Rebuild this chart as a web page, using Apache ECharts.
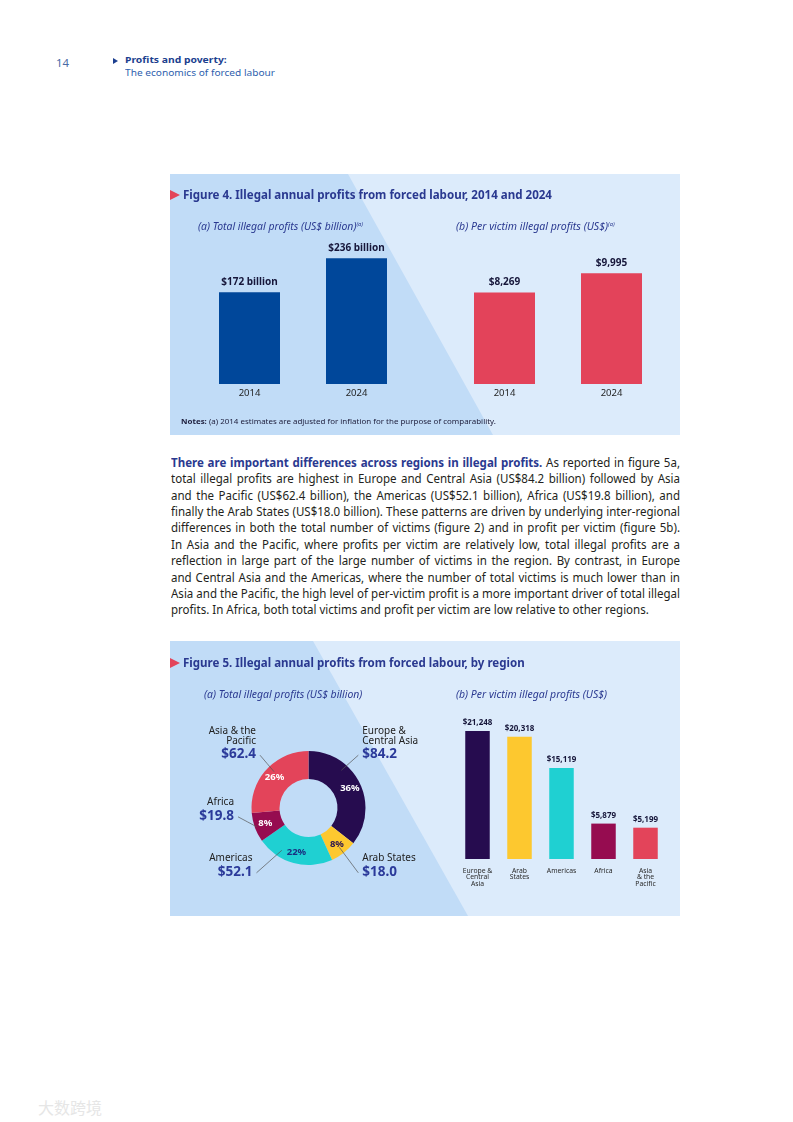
<!DOCTYPE html>
<html>
<head>
<meta charset="utf-8">
<script src="https://cdn.jsdelivr.net/npm/echarts@6/dist/echarts.min.js"></script>
<style>
html,body{margin:0;padding:0;background:#fff;}
#page{position:relative;width:793px;height:1122px;overflow:hidden;font-family:"Noto Sans",sans-serif;background:#fff;}
.t{position:absolute;white-space:nowrap;transform-origin:0 50%;}
.panel{position:absolute;background:#dcebfb;}
.dark{position:absolute;left:0;top:0;width:100%;height:100%;background:#c1dcf7;}
.chart{position:absolute;}
.tri{position:absolute;width:0;height:0;border-style:solid;}
#para{position:absolute;left:170.5px;top:453.7px;transform-origin:0 0;font-size:11.7px;line-height:16.41px;color:#231f20;}
#para .pl{text-align:justify;text-align-last:justify;white-space:normal;}
#para .pl.last{text-align:left;text-align-last:left;}
sup{font-size:5.5px;vertical-align:4px;line-height:0;}
</style>
</head>
<body>
<div id="page">
  <!-- header -->
  <div class="t" data-w="13" style="left:56px;top:57px;font-size:10.5px;line-height:12px;color:#4a6aa5;">14</div>
  <div class="tri" style="left:113px;top:58px;border-width:3px 0 3px 5.6px;border-color:transparent transparent transparent #1c3f8f;"></div>
  <div class="t" data-w="101.7" style="left:125px;top:54.3px;font-size:9.5px;line-height:12px;font-weight:700;color:#1c3f8f;">Profits and poverty:</div>
  <div class="t" data-w="150" style="left:125px;top:67.3px;font-size:9.5px;line-height:12px;color:#2f5fae;">The economics of forced labour</div>

  <!-- figure 4 panel -->
  <div class="panel" style="left:170px;top:174px;width:510px;height:261px;">
    <div class="dark" style="clip-path:polygon(0 0,178px 0,323px 261px,0 261px);"></div>
  </div>
  <div id="fig4" class="chart" style="left:170px;top:174px;width:510px;height:261px;"></div>
  <div class="tri" style="left:170px;top:190px;border-width:5px 0 5px 10px;border-color:transparent transparent transparent #e3445a;"></div>
  <div class="t" data-w="369" style="left:183px;top:187px;font-size:12.5px;line-height:16px;font-weight:700;color:#2a3990;">Figure 4. Illegal annual profits from forced labour, 2014 and 2024</div>
  <div class="t" data-w="165" style="left:198px;top:219.3px;font-size:10px;line-height:14px;font-style:italic;color:#2a3990;">(a) Total illegal profits (US$ billion)<sup>(a)</sup></div>
  <div class="t" data-w="158.7" style="left:456px;top:219.3px;font-size:10px;line-height:14px;font-style:italic;color:#2a3990;">(b) Per victim illegal profits (US$)<sup>(a)</sup></div>
  <div class="t" data-w="315" style="left:181.3px;top:416px;font-size:7.8px;line-height:10px;color:#1c1c3a;"><b>Notes:</b> (a) 2014 estimates are adjusted for inflation for the purpose of comparability.</div>

  <!-- paragraph -->
  <div id="para">
    <div class="pl"><span><b style="color:#2a3990;">There are important differences across regions in illegal profits.</b> As reported in figure 5a,</span></div>
    <div class="pl"><span>total illegal profits are highest in Europe and Central Asia (US$84.2 billion) followed by Asia</span></div>
    <div class="pl"><span>and the Pacific (US$62.4 billion), the Americas (US$52.1 billion), Africa (US$19.8 billion), and</span></div>
    <div class="pl"><span>finally the Arab States (US$18.0 billion). These patterns are driven by underlying inter-regional</span></div>
    <div class="pl"><span>differences in both the total number of victims (figure 2) and in profit per victim (figure 5b).</span></div>
    <div class="pl"><span>In Asia and the Pacific, where profits per victim are relatively low, total illegal profits are a</span></div>
    <div class="pl"><span>reflection in large part of the large number of victims in the region. By contrast, in Europe</span></div>
    <div class="pl"><span>and Central Asia and the Americas, where the number of total victims is much lower than in</span></div>
    <div class="pl"><span>Asia and the Pacific, the high level of per-victim profit is a more important driver of total illegal</span></div>
    <div class="pl last"><span>profits. In Africa, both total victims and profit per victim are low relative to other regions.</span></div>
  </div>

  <!-- figure 5 panel -->
  <div class="panel" style="left:170px;top:641px;width:510px;height:275px;">
    <div class="dark" style="clip-path:polygon(0 0,143px 0,298px 275px,0 275px);"></div>
  </div>
  <div id="fig5" class="chart" style="left:170px;top:641px;width:510px;height:275px;"></div>
  <div class="tri" style="left:170px;top:657.7px;border-width:5px 0 5px 10px;border-color:transparent transparent transparent #e3445a;"></div>
  <div class="t" data-w="341.7" style="left:183px;top:654.7px;font-size:12.5px;line-height:16px;font-weight:700;color:#2a3990;">Figure 5. Illegal annual profits from forced labour, by region</div>
  <div class="t" data-w="158.3" style="left:203.7px;top:686.7px;font-size:10px;line-height:14px;font-style:italic;color:#2a3990;">(a) Total illegal profits (US$ billion)</div>
  <div class="t" data-w="151" style="left:456.3px;top:686.7px;font-size:10px;line-height:14px;font-style:italic;color:#2a3990;">(b) Per victim illegal profits (US$)</div>

  <!-- watermark -->
  <div class="t" style="left:38px;top:1099px;font-family:'Noto Sans CJK SC';font-size:16px;line-height:16px;color:#e6e6e6;">大数跨境</div>
</div>

<script>
// ---------------- DATA ----------------
const fig4Years = ['2014', '2024'];
const fig4TotalProfits = [172, 236];          // US$ billion
const fig4PerVictimProfits = [8269, 9995];    // US$

const fig5Regions = ['Europe & Central Asia', 'Arab States', 'Americas', 'Africa', 'Asia & the Pacific'];
const fig5TotalProfits = [84.2, 18.0, 52.1, 19.8, 62.4];        // US$ billion
const fig5PerVictimProfits = [21248, 20318, 15119, 5879, 5199]; // US$
const fig5DonutLabels = ['Europe &\nCentral Asia', 'Arab States', 'Americas', 'Africa', 'Asia & the\nPacific'];
const fig5BarLabels = ['Europe &\nCentral\nAsia', 'Arab\nStates', 'Americas', 'Africa', 'Asia\n& the\nPacific'];

// ---------------- STYLE ----------------
const FONT = '"Noto Sans", sans-serif';
const regionColors = ['#260c4f', '#fdc82f', '#1fd0d2', '#960c50', '#e3445a'];
const pctLabelColors = ['#ffffff', '#2a1450', '#1a2f80', '#ffffff', '#ffffff'];
const P5 = {x: 170, y: 641};
const donutCenter = [308.5 - P5.x, 808 - P5.y];
// outer label placement (page coords) and leader-line anchor tweaks
const donutLabelPlace = [
  {x: 362.3, top: 725.7, align: 'left',  angleOffset: -23, r: 50},
  {x: 362.3, top: 853.3, align: 'left',  angleOffset: 0,   r: 50},
  {x: 252.5, top: 853.3, align: 'right', angleOffset: 17,  r: 50},
  {x: 234,   top: 797.3, align: 'right', angleOffset: 0,   r: 55},
  {x: 256,   top: 725.7, align: 'right', angleOffset: 4,   r: 50}
];

// ---------------- TEXT FITTING ----------------
document.querySelectorAll('[data-w]').forEach(el => {
  const w = el.getBoundingClientRect().width;
  if (w > 0) el.style.transform = 'scaleX(' + (parseFloat(el.dataset.w) / w) + ')';
});
(function () {
  const para = document.getElementById('para');
  const lines = Array.from(para.querySelectorAll('.pl'));
  const widths = lines.map(l => l.firstElementChild.getBoundingClientRect().width);
  let maxW = 0;
  for (let i = 0; i < widths.length - 1; i++) maxW = Math.max(maxW, widths[i]);
  const s = Math.min(509 / maxW, 486 / widths[widths.length - 1]) * 0.999;
  para.style.width = (509 / s) + 'px';
  para.style.transform = 'scaleX(' + s + ')';
})();

// ---------------- FIGURE 4 ----------------
const fig4 = echarts.init(document.getElementById('fig4'), null, {renderer: 'canvas'});
const fig4Axis = i => ({
  type: 'category', gridIndex: i, data: fig4Years,
  axisLine: {show: false}, axisTick: {show: false},
  axisLabel: {fontSize: 9.5, color: '#1e1e1e', margin: 3.5, lineHeight: 12, fontFamily: FONT}
});
const barLabel = fmt => ({
  show: true, position: 'top', distance: 4.5, formatter: fmt,
  fontSize: 10, fontWeight: 'bold', color: '#16163a', lineHeight: 12, fontFamily: FONT
});
fig4.setOption({
  animation: false,
  textStyle: {fontFamily: FONT},
  grid: [
    {left: 26, width: 214, top: 76.8, bottom: 51},
    {left: 281, width: 214, top: 99.24, bottom: 51}
  ],
  xAxis: [fig4Axis(0), fig4Axis(1)],
  yAxis: [
    {type: 'value', gridIndex: 0, min: 0, max: 250, show: false},
    {type: 'value', gridIndex: 1, min: 0, max: 10000, show: false}
  ],
  series: [
    {type: 'bar', xAxisIndex: 0, yAxisIndex: 0, data: fig4TotalProfits, barWidth: 61,
     itemStyle: {color: '#00479a'}, label: barLabel(p => '$' + p.value + ' billion'), silent: true},
    {type: 'bar', xAxisIndex: 1, yAxisIndex: 1, data: fig4PerVictimProfits, barWidth: 61,
     itemStyle: {color: '#e3435a'}, label: barLabel(p => '$' + p.value.toLocaleString('en-US')), silent: true}
  ]
});

// ---------------- FIGURE 5 ----------------
const fig5 = echarts.init(document.getElementById('fig5'), null, {renderer: 'canvas'});
const total5 = fig5TotalProfits.reduce((a, b) => a + b, 0);
let cum5 = 0;
const midAngles = fig5TotalProfits.map(v => { const a = (cum5 + v / 2) / total5 * 360; cum5 += v; return a; });

fig5.setOption({
  animation: false,
  textStyle: {fontFamily: FONT},
  grid: {left: 286.5, width: 210, top: 85.5, bottom: 57},
  xAxis: {
    type: 'category', data: fig5BarLabels,
    axisLine: {show: false}, axisTick: {show: false},
    axisLabel: {interval: 0, fontSize: 6.8, lineHeight: 6.7, color: '#2a2a2a', margin: 8.3, fontFamily: FONT}
  },
  yAxis: {type: 'value', min: 0, max: 22000, show: false},
  series: [
    {
      type: 'bar', silent: true, barWidth: 24.5,
      data: fig5PerVictimProfits.map((v, i) => ({value: v, itemStyle: {color: regionColors[i]}})),
      label: {show: true, position: 'top', distance: 3.5, lineHeight: 9,
        formatter: p => '$' + p.value.toLocaleString('en-US'),
        fontSize: 8, fontWeight: 'bold', color: '#16163a', fontFamily: FONT}
    },
    {
      type: 'pie', silent: true, center: donutCenter, radius: [29, 57],
      startAngle: 90, clockwise: true, avoidLabelOverlap: false,
      itemStyle: {borderWidth: 0},
      data: fig5Regions.map((n, i) => ({name: n, value: fig5TotalProfits[i],
        itemStyle: {color: regionColors[i]}, label: {color: pctLabelColors[i]}})),
      label: {show: true, position: 'inside', formatter: p => Math.round(p.percent) + '%',
        fontSize: 9.5, fontWeight: 'bold', fontFamily: FONT},
      labelLine: {show: false},
      emphasis: {disabled: true}
    },
    {
      type: 'pie', silent: true, center: donutCenter, radius: [29, 57], z: 3,
      startAngle: 90, clockwise: true, avoidLabelOverlap: false,
      itemStyle: {color: 'rgba(0,0,0,0)', borderWidth: 0},
      data: fig5Regions.map((n, i) => ({name: n, value: fig5TotalProfits[i]})),
      label: {
        show: true, position: 'outside', color: '#222',
        formatter: p => '{n|' + fig5DonutLabels[p.dataIndex] + '}\n{v|$' + p.value.toFixed(1) + '}',
        rich: {
          n: {fontSize: 10, lineHeight: 10, color: '#222', fontFamily: FONT},
          v: {fontSize: 13.5, lineHeight: 17, fontWeight: 'bold', color: '#2b3a9a', fontFamily: FONT}
        }
      },
      labelLine: {show: true, length: 6, length2: 6, lineStyle: {color: '#555', width: 0.7}},
      labelLayout: function (params) {
        const i = params.dataIndex;
        const L = donutLabelPlace[i];
        const ang = (midAngles[i] + L.angleOffset) * Math.PI / 180;
        const sx = donutCenter[0] + L.r * Math.sin(ang);
        const sy = donutCenter[1] - L.r * Math.cos(ang);
        const nLines = fig5DonutLabels[i].split('\n').length;
        const lx = L.x - P5.x, ly = L.top - P5.y;
        const vy = ly + nLines * 10 + 8.5 + 1;
        const ex = lx + (L.align === 'left' ? -4 : 4);
        return {
          x: lx, y: ly, align: L.align, verticalAlign: 'top',
          labelLinePoints: [[sx, sy], [(sx + ex) / 2, (sy + vy) / 2], [ex, vy]]
        };
      },
      emphasis: {disabled: true}
    }
  ]
});
</script>
</body>
</html>
